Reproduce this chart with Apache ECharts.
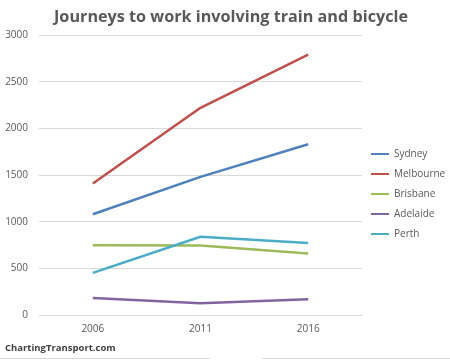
<!DOCTYPE html>
<html><head><meta charset="utf-8">
<script src="https://cdn.jsdelivr.net/npm/echarts@6/dist/echarts.min.js"></script>
<style>html,body{margin:0;padding:0;background:#fff}#c{width:450px;height:360px}</style>
</head><body><div id="c"></div>
<script>
const categories = ['2006', '2011', '2016'];
const sydney = [1080, 1480, 1830];
const melbourne = [1410, 2220, 2790];
const brisbane = [748, 745, 660];
const adelaide = [183, 125, 170];
const perth = [452, 838, 772];
const seriesNames = ['Sydney', 'Melbourne', 'Brisbane', 'Adelaide', 'Perth'];
const seriesData = [sydney, melbourne, brisbane, adelaide, perth];
const colors = ['#4f81bd', '#c0504d', '#9bbb59', '#8064a2', '#4bacc6'];

const chart = echarts.init(document.getElementById('c'));
chart.setOption({
  animation: false,
  title: {
    text: 'Journeys to work involving train and bicycle',
    left: 226, top: 4, textAlign: 'center',
    textStyle: {fontFamily: 'Open Sans', fontWeight: 'bold', fontSize: 16.2, color: '#595959'}
  },
  legend: {
    orient: 'vertical', left: 371, top: 148, padding: 0,
    itemWidth: 18, itemHeight: 14, itemGap: 8,
    icon: 'path://M0,0 L0.01,0 M0,5.75 L21,5.75 L21,8.25 L0,8.25 Z M20.99,14 L21,14',
    textStyle: {fontFamily: 'Open Sans', fontSize: 10, color: '#595959'},
    data: seriesNames
  },
  grid: {left: 39, right: 88, top: 35, bottom: 45, containLabel: false},
  xAxis: {
    type: 'category', data: categories, boundaryGap: true,
    axisLine: {show: true, lineStyle: {color: '#d9d9d9', width: 1}},
    axisTick: {show: false},
    axisLabel: {fontFamily: 'Open Sans', fontSize: 10, color: '#595959', margin: 9}
  },
  yAxis: {
    type: 'value', min: 0, max: 3000, interval: 500,
    axisLine: {show: false}, axisTick: {show: false},
    splitLine: {lineStyle: {color: '#d9d9d9', width: 1}},
    axisLabel: {fontFamily: 'Open Sans', fontSize: 10, color: '#595959', margin: 11, formatter: v => String(v)}
  },
  series: seriesNames.map((n, i) => ({
    name: n, type: 'line', data: seriesData[i], symbol: 'none',
    lineStyle: {width: 2.5, color: colors[i]}, itemStyle: {color: colors[i]}
  })),
  graphic: [
    {type: 'text', left: 5, top: 343, style: {text: 'ChartingTransport.com', fontFamily: 'Open Sans', fontWeight: 'bold', fontSize: 9.5, fill: '#404040'}},
    {type: 'line', shape: {x1: 0, y1: 358.5, x2: 210, y2: 358.5}, style: {stroke: '#d9d9d9', lineWidth: 1}},
    {type: 'line', shape: {x1: 262, y1: 358.5, x2: 450, y2: 358.5}, style: {stroke: '#d9d9d9', lineWidth: 1}}
  ]
});
</script></body></html>
